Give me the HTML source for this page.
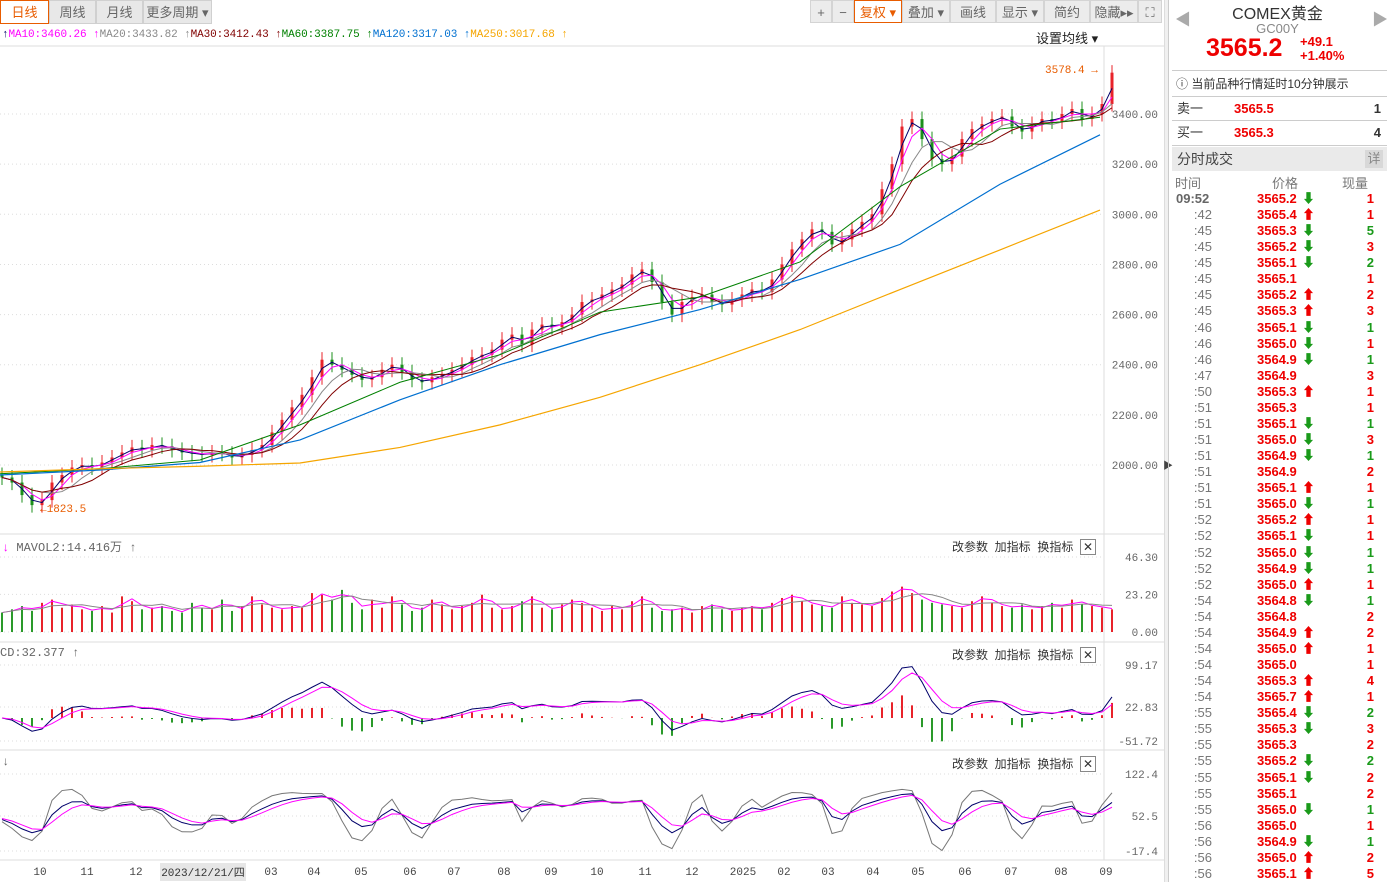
<!DOCTYPE html>
<html><head><meta charset="utf-8">
<style>
*{margin:0;padding:0;box-sizing:border-box}
body{width:1387px;height:882px;overflow:hidden;background:#fff;font-family:"Liberation Sans","Noto Sans CJK SC",sans-serif;position:relative}
.abs{position:absolute}
.tab{position:absolute;top:0;height:24px;line-height:24px;font-size:13px;color:#666;background:#e8e8e8;border:1px solid #d0d0d0;text-align:center}
.btn{position:absolute;top:0;height:23px;line-height:23px;font-size:13px;color:#666;background:#ececec;border:1px solid #d4d4d4;text-align:center}
.mono{font-family:"Liberation Mono","Noto Sans CJK SC",monospace}
.row{position:absolute;left:1172px;width:214px;height:16px;font-size:13px;line-height:16px}
.row .t{position:absolute;left:0;width:40px;text-align:right;color:#777}
.row .p{position:absolute;left:85px;color:#e00;font-weight:bold}
.row .a{position:absolute;left:130px;font-weight:bold}
.row .v{position:absolute;right:12px;font-weight:bold}
.ind{position:absolute;font-size:12px;color:#333}
</style></head><body>
<div class="tab" style="left:0;width:49px;color:#e85c00;border:1px solid #e85c00;background:#fff">日线</div>
<div class="tab" style="left:49px;width:47px">周线</div>
<div class="tab" style="left:96px;width:47px">月线</div>
<div class="tab" style="left:143px;width:69px">更多周期 ▾</div>
<div class="btn" style="left:810px;width:22px">+</div>
<div class="btn" style="left:832px;width:22px">−</div>
<div class="btn" style="left:854px;width:48px;color:#e85c00;border-color:#e85c00;background:#fff">复权 ▾</div>
<div class="btn" style="left:902px;width:48px">叠加 ▾</div>
<div class="btn" style="left:950px;width:46px">画线</div>
<div class="btn" style="left:996px;width:48px">显示 ▾</div>
<div class="btn" style="left:1044px;width:46px">简约</div>
<div class="btn" style="left:1090px;width:48px">隐藏▸▸</div>
<div class="btn" style="left:1138px;width:24px">⛶</div>

<div class="abs mono" style="left:2px;top:29px;font-size:11px;white-space:pre;letter-spacing:-0.1px"><span style="color:#00006a">↑</span><span style="color:#f0f">MA10:3460.26</span> <span style="color:#f0f">↑</span><span style="color:#888">MA20:3433.82</span> <span style="color:#888">↑</span><span style="color:#800000">MA30:3412.43</span> <span style="color:#800000">↑</span><span style="color:#008000">MA60:3387.75</span> <span style="color:#008000">↑</span><span style="color:#0070d0">MA120:3317.03</span> <span style="color:#0070d0">↑</span><span style="color:#f5a500">MA250:3017.68</span> <span style="color:#f5a500">↑</span></div>
<div class="abs" style="left:1036px;top:28px;font-size:13px;color:#222">设置均线 ▾</div>

<svg id="chart" class="abs" style="left:0;top:0" width="1164" height="882"></svg>

<div class="ind mono" style="left:2px;top:538px;color:#666"><span style="color:#f0f">↓</span> MAVOL2:14.416万 ↑</div>
<div class="ind mono" style="left:0;top:646px;color:#666">CD:32.377 ↑</div>
<div class="ind mono" style="left:2px;top:755px;color:#666">↓</div>
<div class="ind" style="left:952px;top:538px">改参数&nbsp;&nbsp;加指标&nbsp;&nbsp;换指标&nbsp;&nbsp;<span style="border:1px solid #888;padding:0 2px">✕</span></div>
<div class="ind" style="left:952px;top:646px">改参数&nbsp;&nbsp;加指标&nbsp;&nbsp;换指标&nbsp;&nbsp;<span style="border:1px solid #888;padding:0 2px">✕</span></div>
<div class="ind" style="left:952px;top:755px">改参数&nbsp;&nbsp;加指标&nbsp;&nbsp;换指标&nbsp;&nbsp;<span style="border:1px solid #888;padding:0 2px">✕</span></div>

<div class="abs" style="left:1164px;top:0;width:4px;height:882px;background:#f0f0f0;border-left:1px solid #ddd"></div>
<div class="abs" style="left:1163px;top:457px;font-size:10px;color:#444">▶</div>
<div class="abs" style="left:1168px;top:0;width:219px;height:882px;border-left:1px solid #ccc"></div>
<div class="abs" style="left:1175px;top:6px;font-size:16px;color:#aaa">◀</div>
<div class="abs" style="left:1372px;top:6px;font-size:16px;color:#aaa">▶</div>
<div class="abs" style="left:1168px;top:0;width:219px;text-align:center;font-size:16px;color:#333">COMEX黄金</div>
<div class="abs" style="left:1168px;top:21px;width:219px;text-align:center;font-size:13px;color:#888">GC00Y</div>
<div class="abs" style="left:1206px;top:34px;font-size:25px;color:#e00;font-weight:bold">3565.2</div>
<div class="abs" style="left:1300px;top:35px;font-size:13px;color:#e00;font-weight:bold;line-height:14px">+49.1<br>+1.40%</div>
<div class="abs" style="left:1172px;top:70px;width:215px;height:27px;border-top:1px solid #ccc;border-bottom:1px solid #ccc;font-size:12px;line-height:26px;padding-left:4px;color:#333">ⓘ 当前品种行情延时10分钟展示</div>
<div class="abs" style="left:1172px;top:97px;width:215px;height:24px;border-bottom:1px solid #ccc;font-size:13px;line-height:24px"><span style="position:absolute;left:5px;color:#333">卖一</span><span style="position:absolute;left:62px;color:#e00;font-weight:bold">3565.5</span><span style="position:absolute;right:6px;color:#333;font-weight:bold">1</span></div>
<div class="abs" style="left:1172px;top:121px;width:215px;height:25px;border-bottom:1px solid #ccc;font-size:13px;line-height:24px"><span style="position:absolute;left:5px;color:#333">买一</span><span style="position:absolute;left:62px;color:#e00;font-weight:bold">3565.3</span><span style="position:absolute;right:6px;color:#333;font-weight:bold">4</span></div>
<div class="abs" style="left:1172px;top:147px;width:215px;height:24px;background:#eaeaea;font-size:14px;line-height:24px;padding-left:5px;color:#444">分时成交<span style="position:absolute;right:4px;top:3px;width:18px;height:18px;line-height:18px;background:#d8d8d8;text-align:center;color:#888;font-size:13px">详</span></div>
<div class="abs" style="left:1172px;top:173px;width:215px;font-size:13px;color:#777"><span style="position:absolute;left:3px">时间</span><span style="position:absolute;left:100px">价格</span><span style="position:absolute;left:170px">现量</span></div>
<div id="ticks"></div>

<script>
const closes=[1950,1930,1880,1840,1860,1930,1960,1990,2000,1990,2010,
2030,2050,2070,2060,2080,2075,2060,2050,2045,2040,
2050,2045,2030,2040,2060,2080,2130,2180,2230,2280,
2350,2420,2400,2380,2360,2340,2350,2380,2400,2370,
2340,2330,2350,2360,2380,2400,2430,2440,2460,2500,
2520,2480,2540,2560,2550,2570,2600,2650,2660,2680,
2700,2720,2760,2780,2730,2650,2600,2650,2670,2680,
2650,2640,2660,2680,2700,2690,2740,2800,2860,2900,
2940,2930,2880,2900,2940,2970,3000,3100,3200,3350,
3380,3300,3220,3200,3230,3300,3340,3360,3380,3390,
3350,3330,3360,3380,3370,3400,3420,3380,3400,3440,3565];
const volumes=[12,14,16,13,18,20,15,17,14,13,16,
12,22,19,14,15,16,13,12,18,15,
14,20,13,16,22,17,15,14,16,15,
24,23,20,26,18,14,20,15,22,17,
13,15,20,17,14,16,18,23,15,14,
16,19,22,15,14,17,20,18,15,13,
16,14,19,22,15,13,14,15,12,16,
17,14,13,15,16,14,18,21,23,19,
17,16,15,22,18,17,16,21,25,28,
24,20,18,17,16,15,19,22,18,16,
15,17,14,16,18,15,20,17,16,15,14];
const priceTicks=[2000,2200,2400,2600,2800,3000,3200,3400];
const maX=[0,100,200,300,400,500,600,700,800,900,1000,1100];
const ma60=[1965,1985,2020,2160,2330,2440,2610,2670,2810,3110,3340,3387];
const ma120=[1960,1980,2010,2100,2260,2400,2520,2620,2740,2880,3120,3317];
const ma250=[1972,1985,1995,2008,2070,2160,2270,2400,2540,2700,2858,3017];
const dateLabels=["10","11","12","03","04","05","06","07","08","09","10","11","12","2025","02","03","04","05","06","07","08","09"];
const dateX=[40,87,136,271,314,361,410,454,504,551,597,645,692,743,784,828,873,918,965,1011,1061,1106];
const volTicks=[0,23.20,46.30];
const macdTicks=["99.17","22.83","-51.72"];
const kdjTicks=["122.4","52.5","-17.4"];
const tTimes=["09:52",":42",":45",":45",":45",":45",":45",":45",":46",":46",":46",":47",":50",":51",":51",":51",":51",":51",":51",":51",":52",":52",":52",":52",":52",":54",":54",":54",":54",":54",":54",":54",":55",":55",":55",":55",":55",":55",":55",":56",":56",":56",":56"];
const tPrices=["3565.2","3565.4","3565.3","3565.2","3565.1","3565.1","3565.2","3565.3","3565.1","3565.0","3564.9","3564.9","3565.3","3565.3","3565.1","3565.0","3564.9","3564.9","3565.1","3565.0","3565.2","3565.1","3565.0","3564.9","3565.0","3564.8","3564.8","3564.9","3565.0","3565.0","3565.3","3565.7","3565.4","3565.3","3565.3","3565.2","3565.1","3565.1","3565.0","3565.0","3564.9","3565.0","3565.1"];
const tDirs=["d","u","d","d","d","","u","u","d","d","d","","u","","d","d","d","","u","d","u","d","d","d","u","d","","u","u","","u","u","d","d","","d","d","","d","","d","u","u"];
const tVols=[1,1,5,3,2,1,2,3,1,1,1,3,1,1,1,3,1,2,1,1,1,1,1,1,1,1,2,2,1,1,4,1,2,3,2,2,2,2,1,1,1,2,5];

const NS="http://www.w3.org/2000/svg";
const svg=document.getElementById('chart');
function mk(tag,attrs,parent){const e=document.createElementNS(NS,tag);for(const k in attrs)e.setAttribute(k,attrs[k]);(parent||svg).appendChild(e);return e;}
const RIGHT=1104, STEP=10;
const xOf=i=>i*STEP;
const yP=p=>465-(p-2000)*0.2507;
const yV=v=>632-v*1.62;
const yM=v=>718-v*0.5;
const yK=v=>816-(v-52.5)*0.59;

[[46,'main'],[534,'vol'],[642,'macd'],[750,'kdj'],[860,'date']].forEach(a=>{
 const l=mk('line',{x1:0,x2:1164,y1:a[0],y2:a[0],stroke:'#ddd'});
 
 
});
const ax=mk('line',{x1:RIGHT,x2:RIGHT,y1:46,y2:860,stroke:'#ddd'});


function hgrid(y){mk('line',{x1:0,x2:RIGHT,y1:y,y2:y,stroke:'#ddd','stroke-dasharray':'1,3'});}
function label(x,y,t,name,anchor,color,size){const e=mk('text',{x:x,y:y,'font-size':size||11,fill:color||'#666','text-anchor':anchor||'start','font-family':'Liberation Mono, monospace'});e.textContent=t;return e;}
priceTicks.forEach(p=>{hgrid(yP(p));label(1158,yP(p)+4,p.toFixed(2),'price-tick','end');});
volTicks.forEach(v=>{hgrid(yV(v));label(1158,yV(v)+4,v.toFixed(2),'volume-tick','end');});
[665,707,741].forEach((y,i)=>{hgrid(y);label(1158,y+4,macdTicks[i],'macd-tick','end');});
[774,816,851].forEach((y,i)=>{hgrid(y);label(1158,y+4,kdjTicks[i],'kdj-tick','end');});

const n=closes.length;
const opens=closes.map((c,i)=>i?closes[i-1]:c+10);
const highs=closes.map((c,i)=>Math.max(c,opens[i])+30);
const lows=closes.map((c,i)=>Math.min(c,opens[i])-30);
for(let i=0;i<n;i++){
 const up=closes[i]>=opens[i];const col=up?'#e8232a':'#1b8f1b';
 const x=xOf(i)+2;
 const w=mk('line',{x1:x,x2:x,y1:yP(highs[i]),y2:yP(lows[i]),stroke:col});
 
 
 const y1=yP(Math.max(opens[i],closes[i])),y2=yP(Math.min(opens[i],closes[i]));
 const b=mk('rect',{x:x-1.5,y:y1,width:3,height:Math.max(1,y2-y1),fill:col});
 
 
}
function sma(arr,k){return arr.map((v,i)=>{let s=0,c=0;for(let j=Math.max(0,i-k+1);j<=i;j++){s+=arr[j];c++;}return s/c;});}
function poly(xs,ys,col,name,w){const pl=mk('polyline',{points:xs.map((x,i)=>x+','+ys[i]).join(' '),fill:'none',stroke:col,'stroke-width':w||1});return pl;}
const idx=closes.map((c,i)=>xOf(i)+2);
poly(idx,sma(closes,2).map(yP),'#00006a','ma5-line');
poly(idx,sma(closes,3).map(yP),'#f0f','ma10-line');
poly(idx,sma(closes,5).map(yP),'#888','ma20-line');
poly(idx,sma(closes,7).map(yP),'#800000','ma30-line');
poly(maX,ma60.map(yP),'#008000','ma60-line');
poly(maX,ma120.map(yP),'#0070d0','ma120-line',1.2);
poly(maX,ma250.map(yP),'#f5a500','ma250-line',1.2);
label(1045,73,'3578.4 →','high-marker','start','#e85c00');
label(40,512,'←1823.5','low-marker','start','#e85c00');

for(let i=0;i<n;i++){
 const up=closes[i]>=opens[i];
 const r=mk('rect',{x:xOf(i)+1,y:yV(volumes[i]),width:2,height:632-yV(volumes[i]),fill:up?'#e8232a':'#2a9a2a'});
 
 
}
poly(idx,sma(volumes,2).map(yV),'#f0f','mavol2-line');
poly(idx,sma(volumes,5).map(yV),'#888','mavol5-line');

function ema(arr,k){const a=2/(k+1);const out=[];arr.forEach((v,i)=>out.push(i?out[i-1]+a*(v-out[i-1]):v));return out;}
const e1=ema(closes,3),e2=ema(closes,6);
const dif=e1.map((v,i)=>v-e2[i]);const dea=ema(dif,3);
for(let i=0;i<n;i++){
 const h=(dif[i]-dea[i])*2;const y0=yM(0),y1=yM(h);
 const l=mk('line',{x1:xOf(i)+2,x2:xOf(i)+2,y1:y0,y2:y1,stroke:h>=0?'#e8232a':'#2a9a2a','stroke-width':2});
 
 
}
poly(idx,dif.map(yM),'#00006a','dif-line');
poly(idx,dea.map(yM),'#f0f','dea-line');

let K=50,D=50;const ks=[],ds=[],js=[];
for(let i=0;i<n;i++){
 let hi=-1e9,lo=1e9;for(let j=Math.max(0,i-2);j<=i;j++){hi=Math.max(hi,highs[j]);lo=Math.min(lo,lows[j]);}
 const rsv=(closes[i]-lo)/(hi-lo)*100;
 K=0.5*K+0.5*rsv;D=0.5*D+0.5*K;ks.push(K);ds.push(D);js.push(Math.max(-20,Math.min(125,3*K-2*D)));
}
poly(idx,js.map(yK),'#777','j-line');
poly(idx,ks.map(yK),'#00006a','k-line');
poly(idx,ds.map(yK),'#f0f','d-line');

dateLabels.forEach((t,i)=>label(dateX[i],875,t,'date-label','middle','#444',11));
const db=mk('rect',{x:160,y:863,width:86,height:18,fill:'#e6e6e6'});


label(203,876,'2023/12/21/四','crosshair-date','middle','#333',11);

const tk=document.getElementById('ticks');
tTimes.forEach((t,i)=>{
 const r=document.createElement('div');r.className='row';r.style.top=(191+i*16.07)+'px';
 
 
 const d=tDirs[i];
 r.innerHTML='<span class="t" style="'+(i==0?'left:4px;text-align:left;font-weight:bold;color:#666':'')+'">'+t+'</span><span class="p">'+tPrices[i]+'</span><span class="a" style="color:'+(d=='d'?'#1a9a1a':'#e00')+'">'+(d=='d'?'⬇':d=='u'?'⬆':'')+'</span><span class="v" style="color:'+(d=='d'&&i%3!=0?'#1a9a1a':'#e00')+'">'+tVols[i]+'</span>';
 tk.appendChild(r);
});
</script>
</body></html>
